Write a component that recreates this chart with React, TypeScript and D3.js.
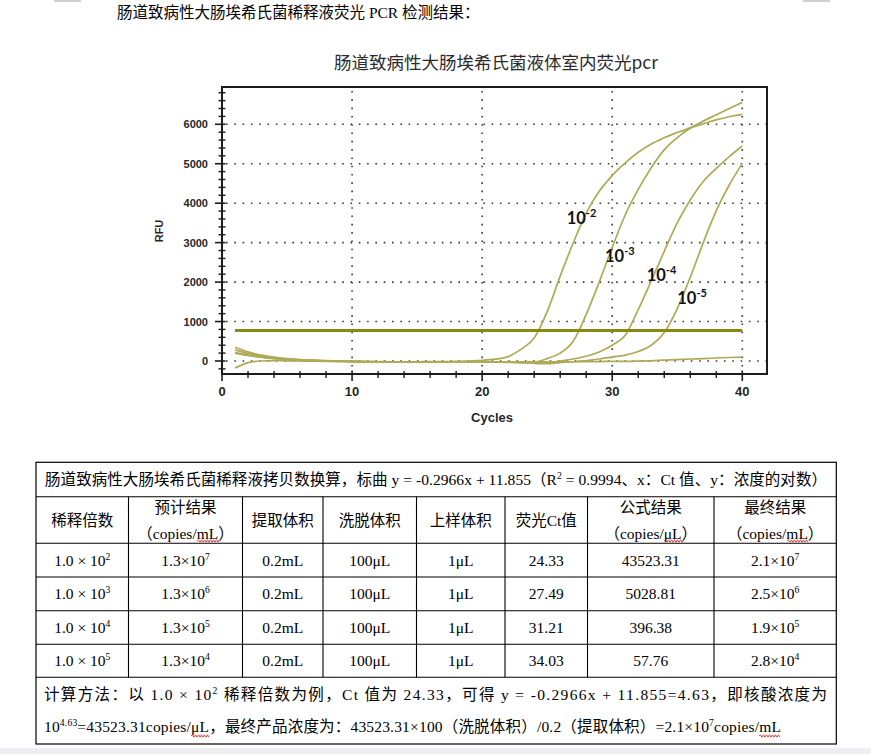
import React from "react";
import * as d3 from "d3";

// ---- chart data ----
const cycles = [
  1, 2, 3, 4, 5, 6, 7, 8, 9, 10, 11, 12, 13, 14, 15, 16, 17, 18, 19, 20,
  21, 22, 23, 24, 25, 26, 27, 28, 29, 30, 31, 32, 33, 34, 35, 36, 37, 38, 39, 40,
];
const rfu1e2 = [
  350, 230, 150, 100, 60, 35, 20, 10, 0, -10, -15, -20, -20, -20, -20, -15, -15, -10, 0, 15,
  45, 110, 300, 580, 1250, 2150, 2990, 3750, 4300, 4700, 5020, 5290, 5500, 5660, 5790, 5910, 6010, 6110, 6190, 6250,
];
const rfu1e3 = [
  280, 190, 125, 80, 50, 30, 15, 5, -5, -10, -15, -20, -20, -20, -20, -20, -20, -20, -20, -25,
  -30, -35, -40, -30, 60, 200, 500, 1180, 2000, 2880, 3700, 4350, 4900, 5350, 5660, 5900, 6080, 6240, 6400, 6555,
];
const rfu1e4 = [
  200, 140, 95, 60, 35, 20, 10, 0, -10, -15, -20, -20, -20, -20, -20, -20, -20, -20, -20, -20,
  -20, -20, -20, -25, -30, 0, 50, 120, 230, 400, 650, 1300, 2030, 2780, 3500, 4080, 4550, 4880, 5180, 5450,
];
const rfu1e5 = [
  210, 150, 100, 65, 40, 22, 10, 0, -10, -15, -20, -20, -20, -20, -20, -20, -20, -20, -20, -20,
  -25, -30, -30, -30, -30, -25, -20, 10, 50, 100, 150, 240, 400, 720, 1330, 2120, 3000, 3810, 4460, 5010,
];
const rfuNtc = [
  -180, -40, 0, 10, 5, 0, -5, -10, -10, -15, -15, -15, -20, -20, -20, -20, -20, -20, -20, -20,
  -25, -30, -40, -60, -70, -40, -20, -15, -15, -10, -10, -5, 5, 20, 35, 50, 60, 75, 88, 100,
];
const series = [rfu1e2, rfu1e3, rfu1e4, rfu1e5, rfuNtc];
const thresholdRfu = 770;

const labelExps = ["-2", "-3", "-4", "-5"];
const labelCycles = [26.5, 29.45, 32.65, 35.0];
const labelRfus = [3480, 2500, 2030, 1440];

const yTicks = [0, 1000, 2000, 3000, 4000, 5000, 6000];
const xTicks = [0, 10, 20, 30, 40];

// ---- table data ----
const headTop = ["稀释倍数", "预计结果", "提取体积", "洗脱体积", "上样体积", "荧光Ct值", "公式结果", "最终结果"];
const headUnit = ["", "（copies/mL）", "", "", "", "", "（copies/μL）", "（copies/mL）"];
const dilutions = ["1.0×10^{2}", "1.0×10^{3}", "1.0×10^{4}", "1.0×10^{5}"];
const expected = ["1.3×10^{7}", "1.3×10^{6}", "1.3×10^{5}", "1.3×10^{4}"];
const extractVol = ["0.2mL", "0.2mL", "0.2mL", "0.2mL"];
const elutionVol = ["100μL", "100μL", "100μL", "100μL"];
const loadVol = ["1μL", "1μL", "1μL", "1μL"];
const ctValues = ["24.33", "27.49", "31.21", "34.03"];
const formulaRes = ["43523.31", "5028.81", "396.38", "57.76"];
const finalRes = ["2.1×10^{7}", "2.5×10^{6}", "1.9×10^{5}", "2.8×10^{4}"];
const tableCols = [dilutions, expected, extractVol, elutionVol, loadVol, ctValues, formulaRes, finalRes];

const pageHeading = "肠道致病性大肠埃希氏菌稀释液荧光 PCR 检测结果：";
const chartTitle = "肠道致病性大肠埃希氏菌液体室内荧光pcr";
const tableTitle = "肠道致病性大肠埃希氏菌稀释液拷贝数换算，标曲 y = -0.2966x + 11.855（R^{2} = 0.9994、x：Ct 值、y：浓度的对数）";
const noteLine1 = "计算方法：以 1.0 × 10^{2} 稀释倍数为例，Ct 值为 24.33，可得 y = -0.2966x + 11.855=4.63，即核酸浓度为";
const noteLine2 = "10^{4.63}=43523.31copies/μL，最终产品浓度为：43523.31×100（洗脱体积）/0.2（提取体积）=2.1×10^{7}copies/mL";

const docFont = "'Liberation Serif', 'Noto Sans CJK SC', serif";
const curveColor = "#aeaa55";
const threshColor = "#8a880f";

// text with ^{...} superscripts
function rich(s: string, fs: number) {
  const parts = s.split(/(\^\{[^}]*\})/);
  const out: any[] = [];
  let up = false;
  parts.forEach((p, i) => {
    if (!p) return;
    if (p.startsWith("^{")) {
      out.push(
        <tspan key={i} dy={-fs * 0.38} fontSize={fs * 0.62}>
          {p.slice(2, -1)}
        </tspan>
      );
      up = true;
    } else {
      out.push(
        <tspan key={i} dy={up ? fs * 0.38 : 0}>
          {p}
        </tspan>
      );
      up = false;
    }
  });
  return out;
}

function squiggle(x0: number, x1: number, yy: number) {
  let d = `M${x0},${yy}`;
  let up = true;
  for (let xx = x0 + 1.5; xx <= x1; xx += 1.5) {
    d += ` L${xx},${up ? yy - 1.2 : yy + 1.2}`;
    up = !up;
  }
  return <path d={d} fill="none" stroke="#e0302a" strokeWidth={0.9} />;
}

const Chart = () => {
  const plot = { left: 222, right: 767, top: 87, bottom: 374 };
  const x = d3.scaleLinear().domain([0, 41.9]).range([plot.left, plot.right]);
  const y = d3.scaleLinear().domain([-330, 6945]).range([plot.bottom, plot.top]);
  const line = d3
    .line<number>()
    .x((_, i) => x(cycles[i]))
    .y((d) => y(d))
    .curve(d3.curveMonotoneX);
  const yMinor = d3.range(-200, 6945, 200).filter((v) => v % 1000 !== 0);
  const xMinor = d3.range(2, 41, 2).filter((v) => v % 10 !== 0);
  const dots = "1.6 6.7";

  return (
    <g>
      <text x={496} y={69} textAnchor="middle" fontSize={17.5} fill="#2b2b2b" fontFamily="'Noto Sans CJK SC', sans-serif">
        {chartTitle}
      </text>

      {/* grid */}
      {yTicks.map((t) => (
        <line key={"gy" + t} x1={plot.left + 4} x2={plot.right} y1={y(t)} y2={y(t)} stroke="#3a3a3a" strokeWidth={1.6} strokeDasharray={dots} />
      ))}
      {xTicks.slice(1).map((t) => (
        <line key={"gx" + t} x1={x(t)} x2={x(t)} y1={plot.top + 4} y2={plot.bottom} stroke="#3a3a3a" strokeWidth={1.6} strokeDasharray={dots} />
      ))}

      {/* amplification curves */}
      {series.map((s, i) => (
        <path key={"c" + i} d={line(s) || ""} fill="none" stroke={curveColor} strokeWidth={1.7} />
      ))}
      <line x1={x(1)} x2={x(40)} y1={y(thresholdRfu)} y2={y(thresholdRfu)} stroke={threshColor} strokeWidth={3} />

      {/* frame */}
      <rect x={plot.left} y={plot.top} width={plot.right - plot.left} height={plot.bottom - plot.top} fill="none" stroke="#1c1c1c" strokeWidth={2} />

      {/* y axis ticks */}
      {yMinor.map((t) => (
        <line key={"ym" + t} x1={plot.left - 3.5} x2={plot.left + 3.5} y1={y(t)} y2={y(t)} stroke="#1c1c1c" strokeWidth={1.4} />
      ))}
      {yTicks.map((t) => (
        <g key={"yt" + t}>
          <line x1={plot.left - 7} x2={plot.left + 3.5} y1={y(t)} y2={y(t)} stroke="#1c1c1c" strokeWidth={1.6} />
          <text x={208} y={y(t) + 4} textAnchor="end" fontSize={11} fontWeight="bold" fill="#262626" fontFamily="'Liberation Sans', Arial, sans-serif">
            {t}
          </text>
        </g>
      ))}

      {/* x axis ticks */}
      {xMinor.map((t) => (
        <line key={"xm" + t} x1={x(t)} x2={x(t)} y1={plot.bottom - 3} y2={plot.bottom + 4} stroke="#1c1c1c" strokeWidth={1.4} />
      ))}
      {xTicks.map((t) => (
        <g key={"xt" + t}>
          <line x1={x(t)} x2={x(t)} y1={plot.bottom - 3.5} y2={plot.bottom + 7} stroke="#1c1c1c" strokeWidth={1.6} />
          <text x={x(t)} y={396} textAnchor="middle" fontSize={13} fontWeight="bold" fill="#262626" fontFamily="'Liberation Sans', Arial, sans-serif">
            {t}
          </text>
        </g>
      ))}

      <text x={492} y={422} textAnchor="middle" fontSize={13} fontWeight="bold" fill="#262626" fontFamily="'Liberation Sans', Arial, sans-serif">
        Cycles
      </text>
      <text transform="translate(163,231) rotate(-90)" textAnchor="middle" fontSize={11} fontWeight="bold" fill="#262626" fontFamily="'Liberation Sans', Arial, sans-serif">
        RFU
      </text>

      {/* dilution labels */}
      {labelExps.map((e, i) => (
        <text key={"lb" + i} x={x(labelCycles[i])} y={y(labelRfus[i])} fontSize={16.5} fontWeight="bold" fill="#111" fontFamily="Lato, 'Open Sans', sans-serif">
          10
          <tspan dy={-7} fontSize={11}>
            {e}
          </tspan>
        </text>
      ))}
    </g>
  );
};

const Table = () => {
  const colX = [36, 128.5, 242.5, 323, 416.5, 505, 587.5, 714, 836.3];
  const rowY = [462.3, 496.7, 543.3, 577, 610.7, 644.3, 677.3, 744];
  const fs = 15.5;
  const mid = (i: number) => (colX[i] + colX[i + 1]) / 2;

  return (
    <g fontFamily={docFont} fontSize={fs} fill="#000">
      {/* borders */}
      <rect x={colX[0]} y={rowY[0]} width={colX[8] - colX[0]} height={rowY[7] - rowY[0]} fill="none" stroke="#000" strokeWidth={1.2} />
      {rowY.slice(1, 7).map((ry, i) => (
        <line key={"r" + i} x1={colX[0]} x2={colX[8]} y1={ry} y2={ry} stroke="#000" strokeWidth={1.1} />
      ))}
      {colX.slice(1, 8).map((cx, i) => (
        <line key={"v" + i} x1={cx} x2={cx} y1={rowY[1]} y2={rowY[6]} stroke="#000" strokeWidth={1.1} />
      ))}

      {/* title row */}
      <text x={45} y={485} textLength={782} lengthAdjust="spacing">
        {rich(tableTitle, fs)}
      </text>

      {/* header */}
      {headTop.map((h, i) =>
        headUnit[i] ? (
          <g key={"h" + i}>
            <text x={mid(i)} y={513} textAnchor="middle">{h}</text>
            <text x={mid(i)} y={539} textAnchor="middle">{headUnit[i]}</text>
          </g>
        ) : (
          <text key={"h" + i} x={mid(i)} y={525.5} textAnchor="middle">{h}</text>
        )
      )}

      {/* data rows */}
      {tableCols.map((col, ci) =>
        col.map((v, ri) => (
          <text key={ci + "-" + ri} x={mid(ci)} y={(rowY[ri + 2] + rowY[ri + 3]) / 2 + 5.5} textAnchor="middle">
            {rich(ci === 0 ? v.replace("×", " × ") : v, fs)}
          </text>
        ))
      )}

      {/* calculation note */}
      <text x={44} y={699.5} textLength={783} lengthAdjust="spacing">
        {rich(noteLine1, fs)}
      </text>
      <text x={44} y={732} textLength={737} lengthAdjust="spacing">
        {rich(noteLine2, fs)}
      </text>

      {/* spell-check squiggles */}
      {squiggle(197, 220, 541)}
      {squiggle(664, 684, 541)}
      {squiggle(787, 808, 541)}
      {squiggle(191, 210, 736)}
      {squiggle(759, 781, 736)}
    </g>
  );
};

export default function App() {
  return (
    <svg width={871} height={754} style={{ position: "absolute", left: 0, top: 0, background: "#fff" }}>
      <rect width={871} height={754} fill="#fff" />
      <rect x={54} y={0} width={27} height={2} fill="#cfcfcf" />
      <rect x={803} y={0} width={27} height={2} fill="#cfcfcf" />
      <text x={117} y={18} fontSize={15.5} fontFamily={docFont} fill="#000">
        {pageHeading}
      </text>
      <Chart />
      <Table />
      <rect x={0} y={748} width={871} height={6} fill="#eceef2" />
    </svg>
  );
}
